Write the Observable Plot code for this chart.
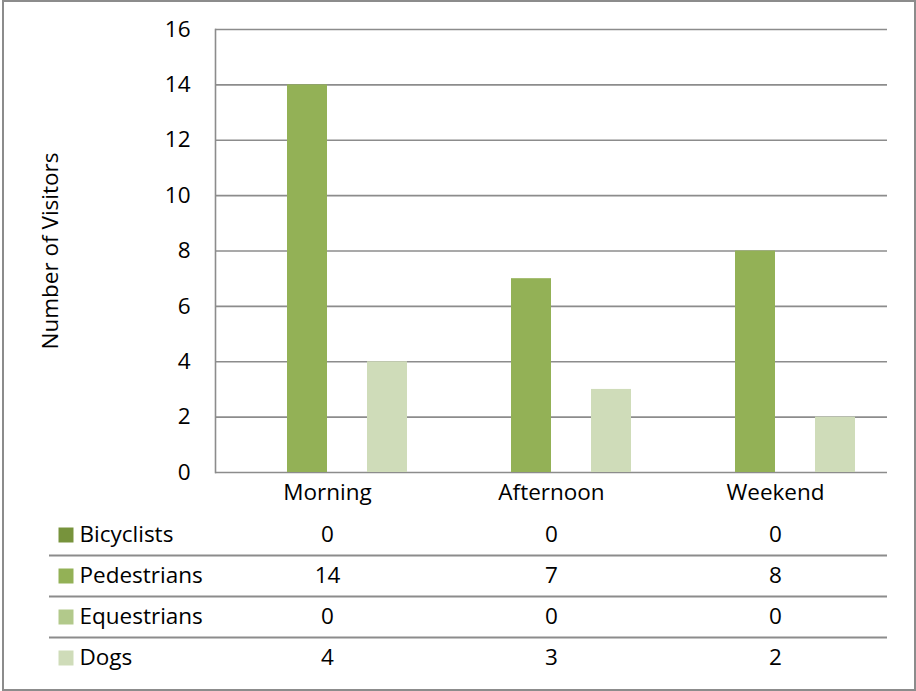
<!DOCTYPE html>
<html><head><meta charset="utf-8">
<script src="https://cdn.jsdelivr.net/npm/d3@7"></script>
<script src="https://cdn.jsdelivr.net/npm/@observablehq/plot@0.6"></script>
<style>
body{margin:0;background:#fff;font-family:"Open Sans",sans-serif}
#wrap{position:relative;width:916px;height:691px;overflow:hidden;background:#fff}
#border{position:absolute;left:2px;top:0;width:914px;height:691px;box-sizing:border-box;border:2px solid #8c8c8c}
#chart,#table{position:absolute;left:0}
#chart{top:0}
#table{top:513px}
</style></head><body>
<div id="wrap"><div id="border"></div><div id="chart"></div><div id="table"></div></div>
<script>
const categories = ["Morning", "Afternoon", "Weekend"];
const series = ["Bicyclists", "Pedestrians", "Equestrians", "Dogs"];
const bicyclists = [0, 0, 0];
const pedestrians = [14, 7, 8];
const equestrians = [0, 0, 0];
const dogs = [4, 3, 2];
const yTicks = [0, 2, 4, 6, 8, 10, 12, 14, 16];
const colors = ["#77933c", "#93b156", "#b2c98b", "#cfdcb9"];
const yTitle = "Number of Visitors";

const seriesValues = [bicyclists, pedestrians, equestrians, dogs];
const data = series.flatMap((s, i) => categories.map((c, j) => ({category: c, series: s, value: seriesValues[i][j]})));

const FONT = '"Open Sans", sans-serif';
const FS = 22.5;
const GRID = "#8c8c8c";

const chart = Plot.plot({
  width: 916, height: 515,
  marginTop: 29, marginBottom: 43, marginLeft: 215, marginRight: 29,
  style: {fontFamily: FONT, fontSize: FS + "px", color: "#000", background: "transparent"},
  fx: {domain: categories, padding: 0, label: null},
  x: {domain: series, paddingInner: 0, paddingOuter: 0.75, axis: null},
  y: {domain: [0, 16], label: null},
  color: {domain: series, range: colors},
  marks: [
    Plot.ruleY(yTicks, {stroke: GRID, strokeWidth: 1.6}),
    Plot.barY(data, {fx: "category", x: "series", y: "value", fill: "series"}),
    Plot.frame({anchor: "left", facetAnchor: "left", stroke: GRID, strokeWidth: 1.6}),
    Plot.axisY({ticks: yTicks, tickSize: 0, tickPadding: 25, tickFormat: d => d, label: yTitle,
      labelAnchor: "center", labelArrow: "none", labelOffset: 173, fontSize: FS}),
    Plot.axisFx({anchor: "bottom", tickSize: 0, tickPadding: 12, label: null, fontSize: FS})
  ]
});
document.getElementById("chart").append(chart);

const table = Plot.plot({
  width: 916, height: 166,
  marginTop: 1, marginBottom: 1, marginLeft: 49, marginRight: 29,
  style: {fontFamily: FONT, fontSize: FS + "px", color: "#000", background: "transparent"},
  x: {type: "band", domain: categories, range: [215, 887], padding: 0, axis: null},
  y: {type: "band", domain: series, padding: 0, axis: null},
  color: {domain: series, range: colors},
  marks: [
    Plot.ruleY(series.slice(1), {y: d => d, dy: -20.5, stroke: GRID, strokeWidth: 2}),
    Plot.dot(series, {y: d => d, frameAnchor: "left", dx: 16.5, symbol: "square", r: 8.46, fill: d => d}),
    Plot.text(series, {y: d => d, frameAnchor: "left", dx: 30, textAnchor: "start", text: d => d, fontSize: FS}),
    Plot.text(data, {x: "category", y: "series", text: d => String(d.value), fontSize: FS})
  ]
});
document.getElementById("table").append(table);
</script>
</body></html>
